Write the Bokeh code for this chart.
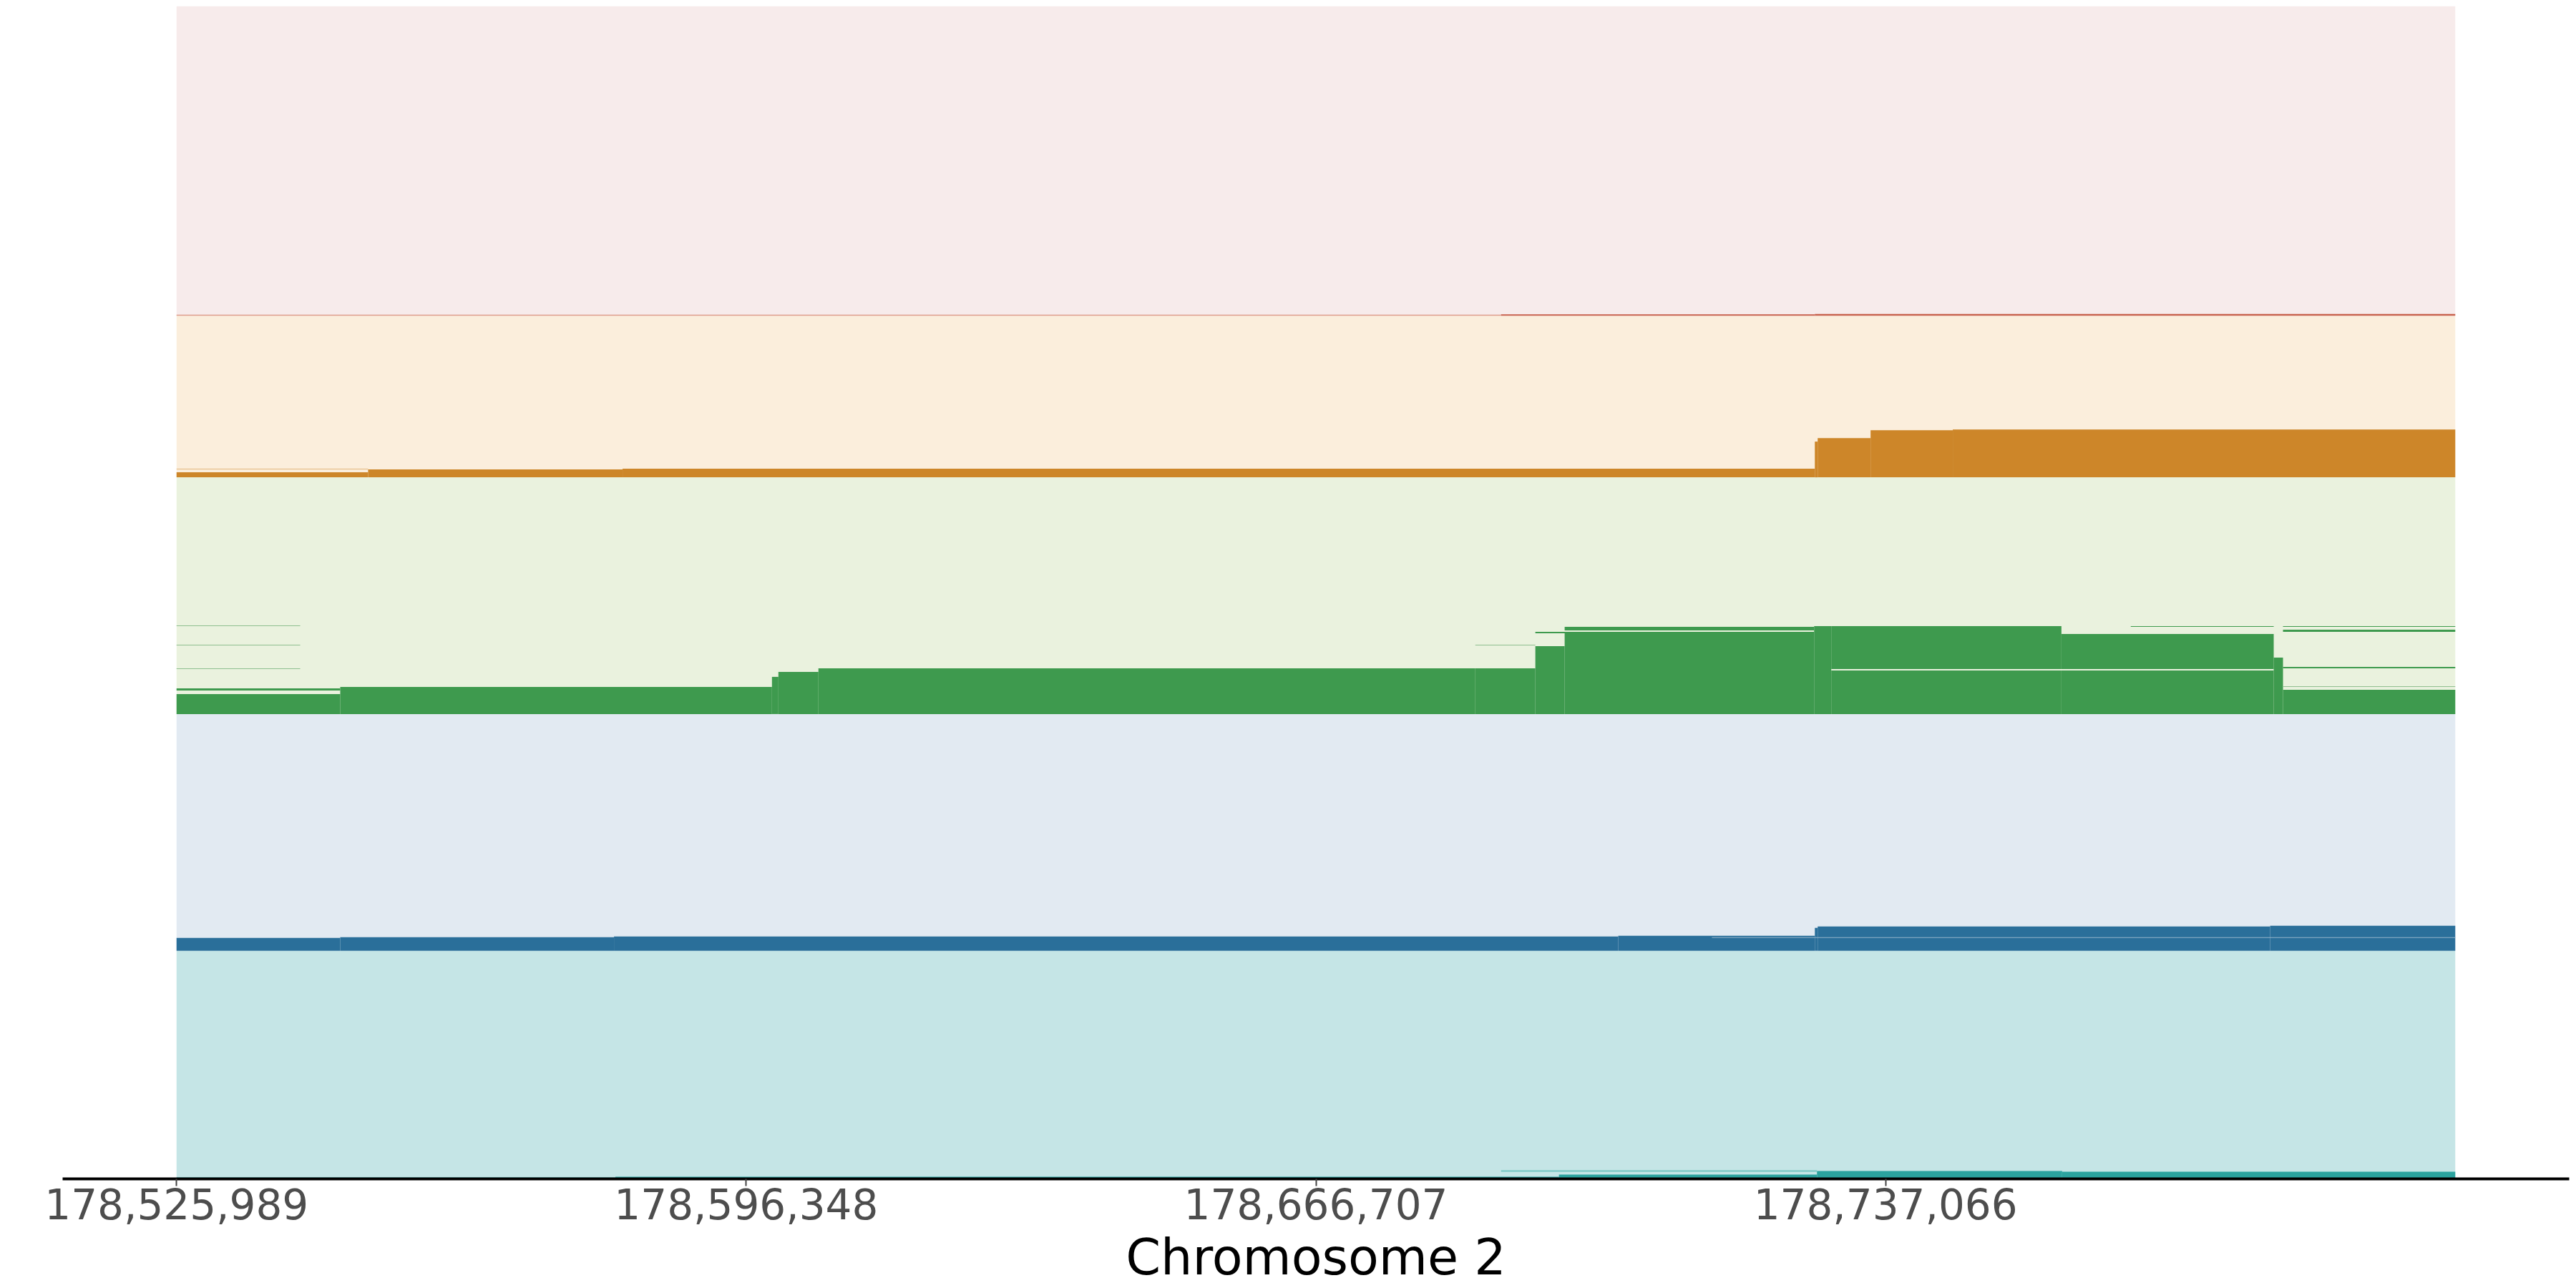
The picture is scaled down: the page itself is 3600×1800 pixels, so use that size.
from bokeh.plotting import figure
from bokeh.models import Range1d, FixedTicker, NumeralTickFormatter, ColumnDataSource
from bokeh.embed import file_html
from bokeh.resources import INLINE

# ---------------- data ----------------
REGION_START = 178525989
REGION_END = 178807425
TICKS = [178525989, 178596348, 178666707, 178737066]
X_LABEL = "Chromosome 2"

# five stacked tracks (bottom to top), bands in stacked-row units
TRACK_NAMES = ["teal", "blue", "green", "orange", "pink"]
TRACK_BOTTOM = [0, 319, 650, 981, 1207]
TRACK_TOP = [319, 650, 981, 1207, 1640]

BAND_BG = ["#c5e5e6", "#e2eaf2", "#eaf2de", "#fbeedc", "#f7ebeb"]
BAR_DARK = ["#2ba39f", "#2a6f9a", "#3e9a4e", "#cd8629", "#c8624e"]
BAR_LIGHT = ["#73c6c2", "#94b5ca", "#8fbf8f", "#e3b67c", "#de9c8a"]

# segments per track: start, end (bp), lower / upper stack row, shade (0 dark, 1 light)
TEAL_START = [178525989, 178580193, 178696723, 178728592, 178758871, 178689572]
TEAL_END   = [178580193, 178696723, 178728592, 178758871, 178807425, 178728592]
TEAL_LO    = [0, 0, 0, 0, 0, 10]
TEAL_HI    = [2, 3, 6, 11, 10, 12]
TEAL_SHADE = [0, 0, 0, 0, 0, 1]

BLUE_START = [178525989, 178546205, 178580016, 178704050, 178728327, 178728680, 178784561, 178715614]
BLUE_END   = [178546205, 178580016, 178704050, 178728327, 178728680, 178784561, 178807425, 178807425]
BLUE_LO    = [0, 0, 0, 0, 0, 0, 0, 18]
BLUE_HI    = [18, 19, 20, 21, 32, 34, 35, 19]
BLUE_SHADE = [0, 0, 0, 0, 0, 0, 0, 1]

GREEN_START = [178525989, 178525989, 178525989, 178525989, 178525989,
               178546205, 178599526, 178600321, 178605264, 178686394, 178686394,
               178693809, 178693809, 178697429, 178697429, 178728238, 178730357,
               178730357, 178758783, 178758783, 178767347, 178785003,
               178786150, 178786150, 178786150, 178786150, 178786150]
GREEN_END   = [178546205, 178546205, 178541261, 178541261, 178541261,
               178599526, 178600321, 178605264, 178686394, 178693809, 178693809,
               178697429, 178718793, 178728238, 178728238, 178730357, 178758783,
               178758783, 178785003, 178785003, 178785003, 178786150,
               178807425, 178807425, 178807425, 178807425, 178807425]
GREEN_LO    = [0, 33, 63, 96, 123,
               0, 0, 0, 0, 0, 96,
               0, 113, 0, 117, 0, 0,
               63, 0, 63, 122, 0,
               0, 38, 64, 115, 122]
GREEN_HI    = [28, 36, 64, 97, 124,
               38, 52, 59, 64, 64, 97,
               95, 115, 115, 122, 123, 61,
               123, 61, 112, 123, 79,
               34, 39, 66, 118, 123]
GREEN_SHADE = [0, 0, 1, 1, 1,
               0, 0, 0, 0, 0, 1,
               0, 0, 0, 0, 0, 0,
               0, 0, 0, 0, 0,
               0, 1, 0, 0, 0]

ORANGE_START = [178525989, 178525989, 178549648, 178581076, 178728327, 178728680, 178735213, 178745365]
ORANGE_END   = [178549648, 178549648, 178581076, 178728327, 178728680, 178735213, 178745365, 178807425]
ORANGE_LO    = [0, 11, 0, 0, 0, 0, 0, 0]
ORANGE_HI    = [7, 12, 11, 12, 50, 55, 66, 67]
ORANGE_SHADE = [0, 1, 0, 0, 0, 0, 0, 0]

PINK_START = [178525989, 178689572, 178728327]
PINK_END   = [178689572, 178728327, 178807425]
PINK_LO    = [0, 0, 0]
PINK_HI    = [1.5, 2, 2.5]
PINK_SHADE = [1, 0, 0]

SEGMENTS = [
    (TEAL_START, TEAL_END, TEAL_LO, TEAL_HI, TEAL_SHADE),
    (BLUE_START, BLUE_END, BLUE_LO, BLUE_HI, BLUE_SHADE),
    (GREEN_START, GREEN_END, GREEN_LO, GREEN_HI, GREEN_SHADE),
    (ORANGE_START, ORANGE_END, ORANGE_LO, ORANGE_HI, ORANGE_SHADE),
    (PINK_START, PINK_END, PINK_LO, PINK_HI, PINK_SHADE),
]

# ---------------- figure ----------------
span = REGION_END - REGION_START
pad = 0.05 * span

p = figure(width=3600, height=1800,
           x_range=Range1d(REGION_START - pad, REGION_END + pad),
           y_range=Range1d(0, TRACK_TOP[-1]),
           y_axis_location=None, toolbar_location=None, output_backend="svg",
           min_border_left=87, min_border_right=10, min_border_top=8, min_border_bottom=0)

p.xgrid.visible = False
p.ygrid.visible = False
p.outline_line_color = None
p.background_fill_color = "white"

# background bands
bands = ColumnDataSource(dict(
    left=[REGION_START] * len(TRACK_NAMES),
    right=[REGION_END] * len(TRACK_NAMES),
    bottom=TRACK_BOTTOM, top=TRACK_TOP, color=BAND_BG))
p.quad(left="left", right="right", bottom="bottom", top="top",
       fill_color="color", line_color=None, source=bands)

# stacked segments
for i, (st, en, lo, hi, sh) in enumerate(SEGMENTS):
    base = TRACK_BOTTOM[i]
    src = ColumnDataSource(dict(
        left=st, right=en,
        bottom=[base + v for v in lo],
        top=[base + v for v in hi],
        color=[BAR_LIGHT[i] if s else BAR_DARK[i] for s in sh]))
    p.quad(left="left", right="right", bottom="bottom", top="top",
           fill_color="color", line_color=None, source=src)

ax = p.xaxis[0]
ax.ticker = FixedTicker(ticks=TICKS)
ax.formatter = NumeralTickFormatter(format="0,0")
ax.axis_label = X_LABEL
ax.axis_label_text_font = "DejaVu Sans"
ax.axis_label_text_font_size = "70px"
ax.axis_label_text_font_style = "normal"
ax.axis_label_text_color = "black"
ax.axis_label_standoff = 9
ax.major_label_text_font = "DejaVu Sans"
ax.major_label_text_font_size = "58px"
ax.major_label_text_color = "#4d4d4d"
ax.major_label_standoff = 3
ax.axis_line_color = "black"
ax.axis_line_width = 4
ax.major_tick_line_color = "#444444"
ax.major_tick_line_width = 2
ax.major_tick_in = 0
ax.major_tick_out = 10
ax.minor_tick_line_color = None

open("out.html", "w").write(file_html(p, INLINE))
